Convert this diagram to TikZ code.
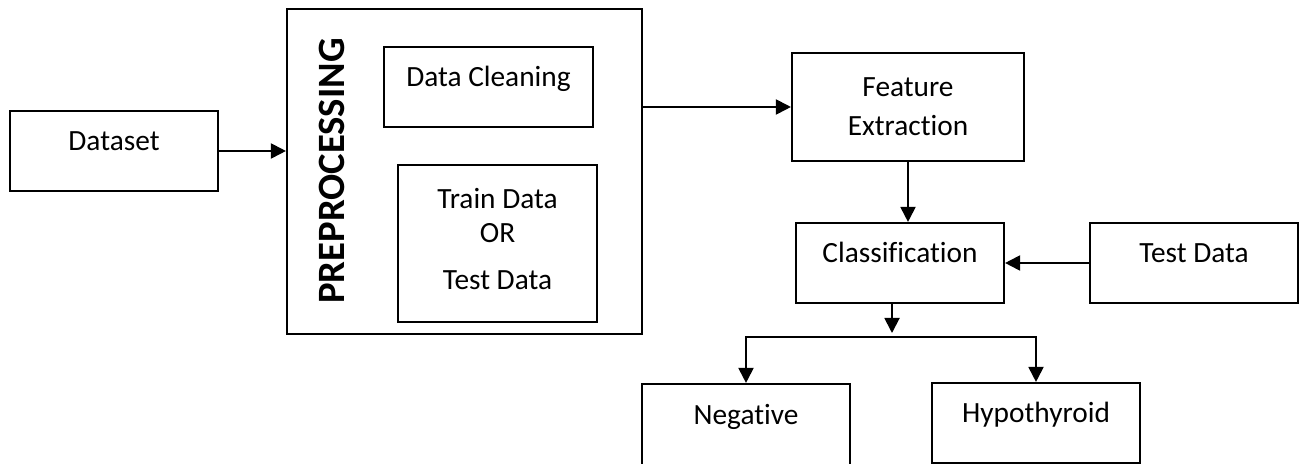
\documentclass[tikz,border=0pt]{standalone}
\usepackage{fontspec}
\setmainfont{Carlito}[Ligatures=NoCommon]
\usetikzlibrary{arrows.meta}

\begin{document}
\begin{tikzpicture}[
    box/.style={draw,line width=1.2pt,minimum width=4.16cm,minimum height=1.6cm,inner sep=0pt,
      text height=0.42cm,text depth=0.42cm,font=\fontsize{16.7}{19}\selectfont},
    multi/.style={text height=,text depth=,align=center},
    arr/.style={line width=1.1pt,-{Triangle[width=0.3cm,length=0.3cm]}}]
        \useasboundingbox (0,0) rectangle (25.98,-9.28);
        % input and preprocessing
        \node [box] (ds) at (2.28,-3.02) {Dataset};
        \node [box,minimum width=7.1cm,minimum height=6.5cm] (pre) at (9.29,-3.43) {};
        \node [rotate=90,font=\fontsize{22}{24}\selectfont\bfseries] (prelbl) at (6.64,-3.42) {PREPROCESSING};
        \node [box,minimum width=4.18cm] (clean) at (9.77,-1.74) {Data Cleaning};
        \node [box,multi,minimum width=3.98cm,minimum height=3.14cm] (traintest) at (9.95,-4.87) {Train Data\\OR\\[8pt]Test Data\\[-14pt]};
        % model
        \node [box,multi,minimum width=4.64cm,minimum height=2.16cm,font=\fontsize{16.7}{22}\selectfont] (feat) at (18.16,-2.14) {Feature\\Extraction};
        \node [box] (cls) at (18.0,-5.26) {Classification};
        \node [box] (test) at (23.88,-5.26) {Test Data};
        % outputs
        \node [box,minimum height=1.64cm] (neg) at (14.92,-8.50) {Negative};
        \node [box] (hypo) at (20.72,-8.46) {Hypothyroid};
        \coordinate (fork) at (17.84,-6.74);

        \draw [arr] (ds.east) -- (ds.east -| pre.west);
        \draw [arr] (feat.west -| pre.east) -- (feat.west);
        \draw [arr] (feat.south) -- (feat.south |- cls.north);
        \draw [arr] (test.west) -- (cls.east);
        \draw [arr] (fork |- cls.south) -- ([yshift=0.08cm]fork);
        \draw [arr] (fork) -| (neg.north);
        \draw [arr] (fork) -| (hypo.north);
\end{tikzpicture}
\end{document}
